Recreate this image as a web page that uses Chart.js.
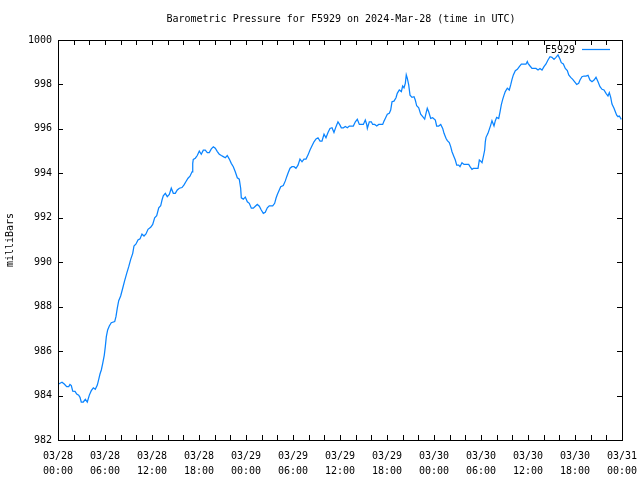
<!DOCTYPE html>
<html>
<head>
<meta charset="utf-8">
<title>Barometric Pressure F5929</title>
<script src="https://cdn.jsdelivr.net/npm/chart.js@4.4.1/dist/chart.umd.min.js"></script>
<style>
  body { margin: 0; background: #fff; }
  #chart { display: block; }
</style>
</head>
<body>
<canvas id="chart" width="640" height="480"></canvas>
<script>
// Datos (horas desde 03/28 00:00 UTC, presion en mb)
const chartTitle = 'Barometric Pressure for F5929 on 2024-Mar-28 (time in UTC)';
const seriesName = 'F5929';
const yAxisTitle = 'milliBars';

const hours = [
  0.08, 0.51, 0.80, 1.11, 1.37, 1.53, 1.70, 1.88, 2.17, 2.39,
  2.64, 2.81, 2.97, 3.23, 3.49, 3.74, 4.00, 4.25, 4.51, 4.76,
  5.02, 5.20, 5.36, 5.53, 5.71, 5.91, 6.04, 6.17, 6.34, 6.55,
  6.80, 7.24, 7.40, 7.57, 7.75, 8.00, 8.26, 8.51, 8.77, 9.03,
  9.28, 9.54, 9.70, 9.96, 10.21, 10.47, 10.72, 10.98, 11.23, 11.49,
  11.83, 12.09, 12.34, 12.60, 12.86, 13.11, 13.28, 13.44, 13.70, 13.95,
  14.21, 14.46, 14.72, 14.97, 15.23, 15.49, 15.83, 16.09, 16.34, 16.60,
  16.85, 17.11, 17.20, 17.27, 17.53, 17.78, 18.04, 18.29, 18.55, 18.80,
  19.06, 19.31, 19.57, 19.83, 20.08, 20.34, 20.59, 20.85, 21.10, 21.36,
  21.61, 21.87, 22.12, 22.38, 22.63, 22.89, 23.14, 23.32, 23.40, 23.66,
  23.91, 24.17, 24.42, 24.68, 24.93, 25.19, 25.44, 25.70, 25.95, 26.21,
  26.46, 26.72, 26.97, 27.41, 27.66, 27.83, 28.00, 28.25, 28.43, 28.76,
  29.02, 29.20, 29.36, 29.62, 29.87, 30.13, 30.38, 30.64, 30.89, 31.15,
  31.40, 31.66, 31.91, 32.17, 32.43, 32.68, 32.94, 33.19, 33.45, 33.70,
  33.96, 34.21, 34.47, 34.72, 34.98, 35.23, 35.49, 35.74, 36.00, 36.17,
  36.43, 36.68, 36.94, 37.19, 37.45, 37.70, 37.96, 38.21, 38.47, 38.72,
  38.98, 39.23, 39.41, 39.49, 39.74, 40.00, 40.17, 40.43, 40.69, 40.94,
  41.20, 41.45, 41.62, 41.78, 42.04, 42.29, 42.47, 42.64, 42.89, 43.15,
  43.31, 43.57, 43.83, 44.00, 44.17, 44.34, 44.46, 44.59, 44.77, 44.94,
  45.19, 45.45, 45.61, 45.79, 46.05, 46.30, 46.56, 46.81, 46.98, 47.14,
  47.32, 47.58, 47.83, 48.17, 48.34, 48.60, 48.86, 49.11, 49.28, 49.53,
  49.70, 49.95, 50.13, 50.30, 50.55, 50.72, 50.90, 51.15, 51.32, 51.57,
  51.83, 52.17, 52.43, 52.60, 52.85, 53.02, 53.28, 53.62, 53.79, 53.96,
  54.13, 54.30, 54.47, 54.55, 54.64, 54.89, 55.06, 55.24, 55.40, 55.66,
  55.83, 56.00, 56.26, 56.43, 56.59, 56.77, 56.94, 57.10, 57.36, 57.61,
  57.79, 57.96, 58.13, 58.38, 58.64, 58.89, 59.15, 59.49, 59.74, 59.91,
  60.00, 60.26, 60.51, 60.77, 61.02, 61.28, 61.53, 61.79, 62.04, 62.30,
  62.55, 62.81, 63.06, 63.32, 63.57, 63.83, 64.09, 64.25, 64.51, 64.76,
  65.02, 65.20, 65.45, 65.71, 65.96, 66.22, 66.47, 66.64, 66.89, 67.15,
  67.40, 67.66, 67.91, 68.17, 68.43, 68.68, 68.94, 69.19, 69.45, 69.70,
  69.96, 70.21, 70.38, 70.56, 70.72, 70.98, 71.15, 71.32, 71.49, 71.66,
  71.91
];

const pressure = [
  984.52, 984.60, 984.52, 984.40, 984.40, 984.50, 984.45, 984.20, 984.19, 984.07,
  984.02, 983.92, 983.71, 983.71, 983.83, 983.71, 984.02, 984.22, 984.35, 984.28,
  984.47, 984.73, 984.97, 985.15, 985.45, 985.82, 986.20, 986.65, 986.95, 987.13,
  987.28, 987.33, 987.55, 987.93, 988.27, 988.48, 988.83, 989.17, 989.50, 989.80,
  990.13, 990.40, 990.73, 990.82, 991.00, 991.05, 991.27, 991.18, 991.27, 991.48,
  991.57, 991.70, 992.00, 992.09, 992.45, 992.54, 992.80, 992.99, 993.10, 992.95,
  993.05, 993.33, 993.10, 993.10, 993.25, 993.33, 993.36, 993.48, 993.63, 993.78,
  993.87, 994.07, 994.45, 994.63, 994.68, 994.80, 995.00, 994.86, 995.04, 995.04,
  994.93, 994.93, 995.10, 995.19, 995.13, 994.98, 994.86, 994.80, 994.75, 994.70,
  994.80, 994.64, 994.45, 994.30, 994.07, 993.80, 993.74, 993.33, 992.90, 992.84,
  992.93, 992.72, 992.65, 992.43, 992.43, 992.52, 992.60, 992.52, 992.35, 992.20,
  992.25, 992.45, 992.54, 992.54, 992.65, 992.88, 993.05, 993.25, 993.40, 993.45,
  993.66, 993.85, 994.00, 994.23, 994.30, 994.30, 994.23, 994.37, 994.64, 994.52,
  994.64, 994.64, 994.82, 995.05, 995.24, 995.42, 995.55, 995.60, 995.45, 995.45,
  995.76, 995.60, 995.84, 996.02, 996.05, 995.84, 996.10, 996.32, 996.17, 996.05,
  996.05, 996.11, 996.05, 996.13, 996.13, 996.13, 996.32, 996.43, 996.20, 996.20,
  996.20, 996.40, 996.20, 996.02, 996.32, 996.32, 996.20, 996.20, 996.13, 996.20,
  996.20, 996.20, 996.35, 996.47, 996.66, 996.70, 996.85, 997.22, 997.25, 997.40,
  997.60, 997.75, 997.68, 997.93, 997.85, 998.05, 998.43, 998.28, 997.98, 997.52,
  997.42, 997.45, 997.30, 997.04, 996.95, 996.66, 996.55, 996.44, 996.70, 996.93,
  996.77, 996.47, 996.50, 996.40, 996.13, 996.13, 996.20, 996.02, 995.80, 995.58,
  995.47, 995.38, 995.20, 994.97, 994.75, 994.60, 994.37, 994.37, 994.30, 994.48,
  994.40, 994.40, 994.40, 994.30, 994.18, 994.22, 994.22, 994.22, 994.60, 994.55,
  994.48, 994.75, 995.05, 995.42, 995.62, 995.80, 995.98, 996.17, 996.37, 996.13,
  996.37, 996.52, 996.47, 996.77, 997.08, 997.33, 997.52, 997.68, 997.83, 997.75,
  997.98, 998.23, 998.43, 998.62, 998.68, 998.80, 998.91, 998.91, 998.91, 999.03,
  998.95, 998.83, 998.72, 998.72, 998.72, 998.65, 998.72, 998.65, 998.80, 998.92,
  999.10, 999.25, 999.22, 999.13, 999.22, 999.33, 999.13, 998.98, 998.92, 998.72,
  998.62, 998.43, 998.32, 998.23, 998.12, 998.00, 998.05, 998.20, 998.35, 998.38,
  998.38, 998.41, 998.20, 998.12, 998.20, 998.32, 998.12, 997.90, 997.78, 997.75,
  997.60, 997.48, 997.63, 997.42, 997.12, 996.93, 996.77, 996.62, 996.55, 996.58,
  996.43
];

// Etiquetas del eje x cada 6 horas
const xTickDates = ['03/28', '03/28', '03/28', '03/28', '03/29', '03/29', '03/29', '03/29',
                    '03/30', '03/30', '03/30', '03/30', '03/31'];
const xTickTimes = ['00:00', '06:00', '12:00', '18:00', '00:00', '06:00', '12:00', '18:00',
                    '00:00', '06:00', '12:00', '18:00', '00:00'];

const monoFont = 'DejaVu Sans Mono';
const lineColor = '#0a84ff';

// Marco, ticks interiores, titulo y leyenda al estilo gnuplot
const gnuplotFrame = {
    id: 'gnuplotFrame',
    afterDatasetsDraw(chart) {
        const ctx = chart.ctx;
        const area = chart.chartArea;
        const xs = chart.scales.x;
        const ys = chart.scales.y;
        const tickLen = 5;

        ctx.save();
        ctx.strokeStyle = '#000';
        ctx.lineWidth = 1;

        // Ticks del eje x (abajo y arriba)
        ctx.beginPath();
        xs.ticks.forEach(t => {
            const px = Math.round(xs.getPixelForValue(t.value)) + 0.5;
            ctx.moveTo(px, area.bottom);
            ctx.lineTo(px, area.bottom - tickLen);
            ctx.moveTo(px, area.top);
            ctx.lineTo(px, area.top + tickLen);
        });
        // Ticks del eje y (izquierda y derecha)
        ys.ticks.forEach(t => {
            const py = Math.round(ys.getPixelForValue(t.value)) + 0.5;
            ctx.moveTo(area.left, py);
            ctx.lineTo(area.left + tickLen, py);
            ctx.moveTo(area.right, py);
            ctx.lineTo(area.right - tickLen, py);
        });
        ctx.stroke();

        // Marco
        ctx.strokeRect(Math.round(area.left) + 0.5, Math.round(area.top) + 0.5,
                       Math.round(area.right - area.left), Math.round(area.bottom - area.top));

        ctx.fillStyle = '#000';
        ctx.font = '10px "' + monoFont + '"';
        ctx.textBaseline = 'middle';

        // Titulo
        ctx.textAlign = 'center';
        ctx.fillText(chartTitle, (area.left + area.right) / 2 + 1, 19);

        // Titulo del eje y
        ctx.save();
        ctx.translate(10, (area.top + area.bottom) / 2);
        ctx.rotate(-Math.PI / 2);
        ctx.fillText(yAxisTitle, 0, 0);
        ctx.restore();

        // Leyenda
        ctx.textAlign = 'right';
        ctx.fillText(seriesName, area.right - 47, area.top + 10);
        ctx.strokeStyle = lineColor;
        ctx.lineWidth = 1.25;
        ctx.beginPath();
        ctx.moveTo(area.right - 40, area.top + 9.5);
        ctx.lineTo(area.right - 12, area.top + 9.5);
        ctx.stroke();

        ctx.restore();
    }
};

const ctx = document.getElementById('chart').getContext('2d');
new Chart(ctx, {
    type: 'line',
    data: {
        datasets: [{
            label: seriesName,
            data: hours.map((h, i) => ({ x: h, y: pressure[i] })),
            borderColor: lineColor,
            borderWidth: 1.25,
            pointRadius: 0,
            tension: 0,
            fill: false
        }]
    },
    options: {
        responsive: false,
        animation: false,
        layout: {
            padding: { top: 40, right: 18, left: 0, bottom: 0 }
        },
        plugins: {
            legend: { display: false },
            title: { display: false },
            tooltip: { enabled: false }
        },
        scales: {
            x: {
                type: 'linear',
                min: 0,
                max: 72,
                grid: { display: false, drawTicks: false },
                border: { display: false },
                ticks: {
                    stepSize: 2,
                    autoSkip: false,
                    maxRotation: 0,
                    padding: 9,
                    color: '#000',
                    font: { family: monoFont, size: 10, lineHeight: 1.5 },
                    callback: v => (v % 6 === 0) ? [xTickDates[v / 6], xTickTimes[v / 6]] : ''
                },
                afterFit: s => { s.height = 40; s.paddingRight = 0; s.paddingLeft = 0; }
            },
            y: {
                min: 982,
                max: 1000,
                grid: { display: false, drawTicks: false },
                border: { display: false },
                ticks: {
                    stepSize: 2,
                    padding: 6,
                    color: '#000',
                    font: { family: monoFont, size: 10 },
                    callback: v => String(v)
                },
                afterFit: s => { s.width = 58; }
            }
        }
    },
    plugins: [gnuplotFrame]
});
</script>
</body>
</html>
